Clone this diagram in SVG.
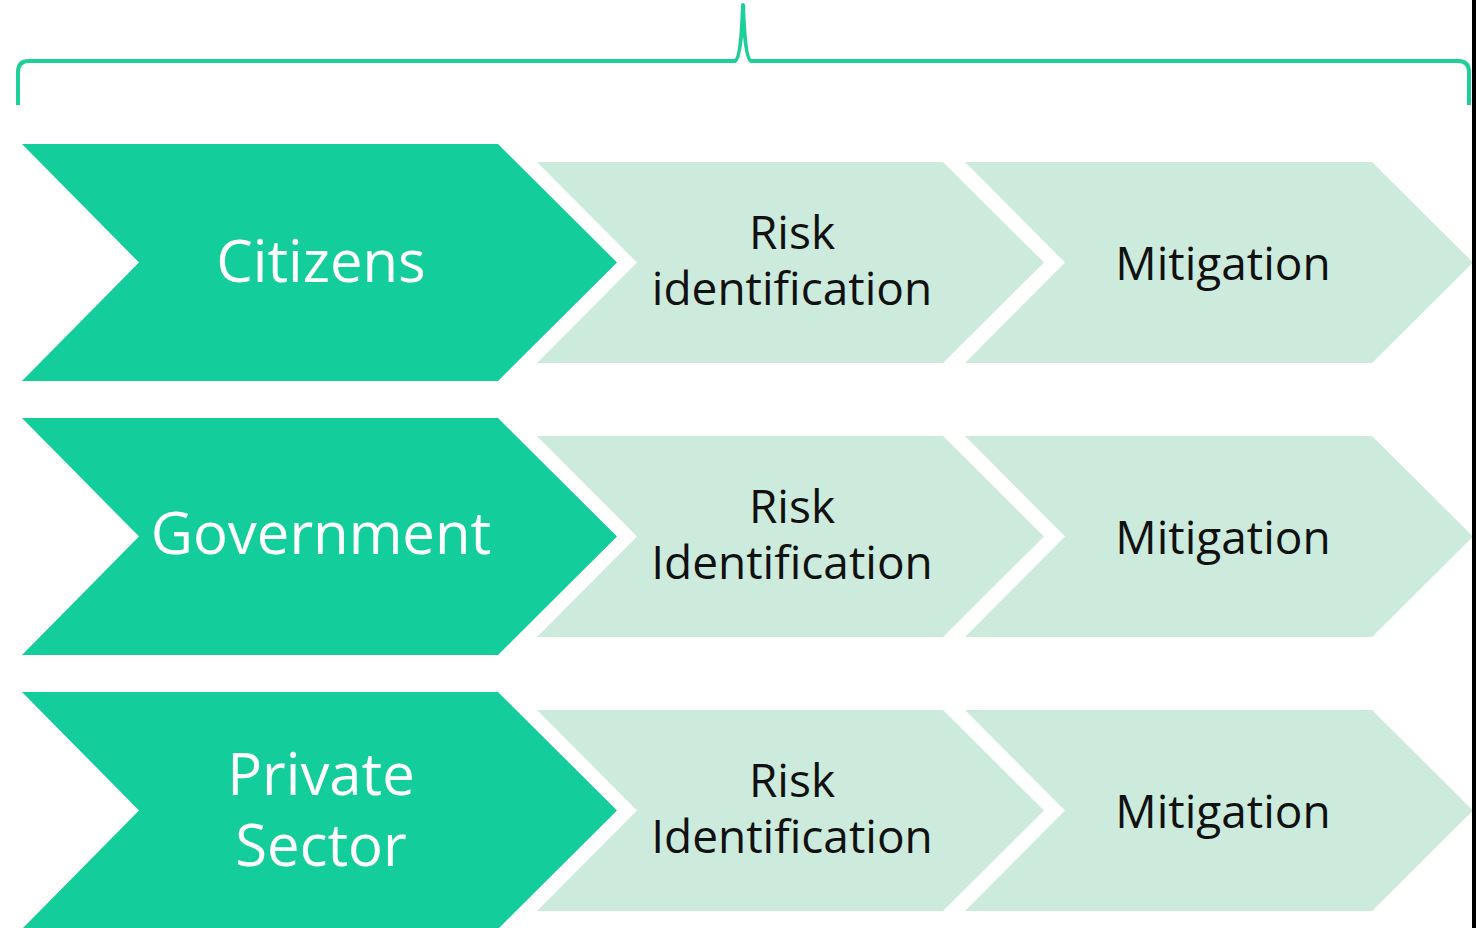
<svg xmlns="http://www.w3.org/2000/svg" width="1476" height="928" viewBox="0 0 1476 928">
<style>
.dark{fill:#13CE9A}
.light{fill:#CCEBDC}
.dt{font-family:"Open Sans","Noto Sans",sans-serif;font-size:58px;fill:#FFFFFF;text-anchor:middle}
.lt{font-family:"Open Sans","Noto Sans",sans-serif;font-size:46px;fill:#111111;text-anchor:middle}
.brace{fill:none;stroke:#1DCF98;stroke-width:4;stroke-linejoin:round}
</style>
<defs>
<polygon id="darkShape" points="22,144 498,144 617,262.5 498,381 22,381 139,262.5"/>
<polygon id="lightA" points="537,162 943,162 1044,262.5 943,363 537,363 637,262.5"/>
<polygon id="lightB" points="965,162 1372,162 1473,262.5 1372,363 965,363 1065,262.5"/>
</defs>
<rect width="1476" height="928" fill="#FFFFFF"/>
<g id="connectors">
<path class="brace" d="M18,105 L18,72 Q18,61 29,61 L735,61 Q741,59 743,5 Q745,59 751,61 L1458,61 Q1469,61 1469,72 L1469,105"/>
</g>
<g id="citizens"><use href="#darkShape" class="dark"/><text class="dt" x="321" y="282">Citizens</text></g>
<g id="risk1"><use href="#lightA" class="light"/><text class="lt" x="792" y="249">Risk</text><text class="lt" x="792" y="305">identification</text></g>
<g id="mitigation1"><use href="#lightB" class="light"/><text class="lt" x="1223" y="280">Mitigation</text></g>
<g id="government" transform="translate(0,274)"><use href="#darkShape" class="dark"/><text class="dt" x="321" y="280">Government</text></g>
<g id="risk2" transform="translate(0,274)"><use href="#lightA" class="light"/><text class="lt" x="792" y="249">Risk</text><text class="lt" x="792" y="305">Identification</text></g>
<g id="mitigation2" transform="translate(0,274)"><use href="#lightB" class="light"/><text class="lt" x="1223" y="280">Mitigation</text></g>
<g id="private" transform="translate(0,548)"><use href="#darkShape" class="dark"/><text class="dt" x="321" y="247">Private</text><text class="dt" x="321" y="318">Sector</text></g>
<g id="risk3" transform="translate(0,548)"><use href="#lightA" class="light"/><text class="lt" x="792" y="249">Risk</text><text class="lt" x="792" y="305">Identification</text></g>
<g id="mitigation3" transform="translate(0,548)"><use href="#lightB" class="light"/><text class="lt" x="1223" y="280">Mitigation</text></g>
<rect x="1472" y="0" width="4" height="928" fill="#000000"/>
</svg>
